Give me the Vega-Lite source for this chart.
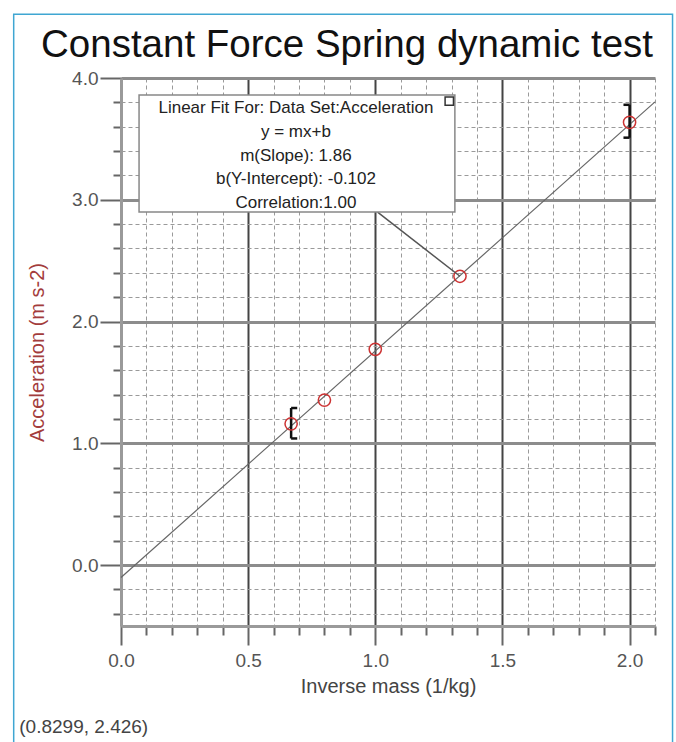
{
  "$schema": "https://vega.github.io/schema/vega-lite/v6.json",
  "width": 534,
  "height": 548,
  "autosize": {"type": "none"},
  "padding": {"left": 121, "top": 78, "right": 21, "bottom": 116},
  "background": "white",
  "title": {
    "text": "Constant Force Spring dynamic test",
    "anchor": "middle",
    "frame": "group",
    "dx": -41,
    "offset": -52,
    "font": "Liberation Sans",
    "fontSize": 38.5,
    "fontWeight": "normal",
    "color": "#111111"
  },
  "config": {
    "view": {"stroke": null},
    "font": "Liberation Sans"
  },
  "datasets": {
    "fit": [{"x": 0, "y": -0.102}, {"x": 2.1, "y": 3.804}],
    "points": [
      {"x": 0.669, "y": 1.16},
      {"x": 0.8, "y": 1.355},
      {"x": 1.0, "y": 1.772},
      {"x": 1.333, "y": 2.372},
      {"x": 2.0, "y": 3.636}
    ],
    "bars": [
      {"x": 0.669, "y": 1.04, "y2": 1.29},
      {"x": 2.0, "y": 3.51, "y2": 3.78}
    ],
    "serifs": [
      {"x": 0.669, "x2": 0.693, "y": 1.29},
      {"x": 0.669, "x2": 0.693, "y": 1.04},
      {"x": 1.976, "x2": 2.0, "y": 3.78},
      {"x": 1.976, "x2": 2.0, "y": 3.51}
    ],
    "box": [{"x": 0.071, "x2": 1.313, "y": 2.9, "y2": 3.86}],
    "connector": [{"x": 1.009, "x2": 1.333, "y": 2.898, "y2": 2.372}],
    "boxtext": [
      {"x": 0.688, "y": 3.752, "label": "Linear Fit For:  Data Set:Acceleration"},
      {"x": 0.688, "y": 3.555, "label": "y = mx+b"},
      {"x": 0.688, "y": 3.358, "label": "m(Slope): 1.86"},
      {"x": 0.688, "y": 3.169, "label": "b(Y-Intercept): -0.102"},
      {"x": 0.688, "y": 2.972, "label": "Correlation:1.00"}
    ],
    "corner": [{"x": 1.291, "y": 3.81}],
    "footer": [{"x": -0.4, "y": -1.33, "label": "(0.8299, 2.426)"}]
  },
  "layer": [
    {
      "data": {"name": "fit"},
      "mark": {"type": "line", "color": "#666666", "strokeWidth": 1.2},
      "encoding": {
        "x": {
          "field": "x",
          "type": "quantitative",
          "title": "Inverse mass (1/kg)",
          "scale": {"domain": [0, 2.1], "nice": false, "zero": false},
          "axis": {
            "values": [0, 0.1, 0.2, 0.3, 0.4, 0.5, 0.6, 0.7, 0.8, 0.9, 1.0, 1.1, 1.2, 1.3, 1.4, 1.5, 1.6, 1.7, 1.8, 1.9, 2.0, 2.1],
            "tickCount": 100,
            "labelOverlap": false,
            "labelExpr": "abs(datum.value*2 - round(datum.value*2)) < 0.001 ? format(datum.value, '.1f') : ''",
            "grid": true,
            "gridColor": {"condition": {"test": "abs(datum.value*2 - round(datum.value*2)) < 0.001", "value": "#444444"}, "value": "#9a9a9a"},
            "gridWidth": {"condition": {"test": "abs(datum.value*2 - round(datum.value*2)) < 0.001", "value": 2}, "value": 1},
            "gridDash": {"condition": {"test": "abs(datum.value*2 - round(datum.value*2)) < 0.001", "value": []}, "value": [4, 3]},
            "tickSize": {"condition": {"test": "abs(datum.value*2 - round(datum.value*2)) < 0.001", "value": 19}, "value": 9},
            "tickColor": "#666666",
            "tickWidth": 2,
            "domainColor": "#9a9a9a",
            "domainWidth": 3,
            "labelFont": "Liberation Sans",
            "labelFontSize": 19,
            "labelColor": "#555555",
            "labelPadding": 6,
            "labelFlush": false,
            "titleFont": "Liberation Sans",
            "titleFontSize": 20,
            "titleFontWeight": "normal",
            "titleColor": "#444444",
            "titlePadding": 6
          }
        },
        "y": {
          "field": "y",
          "type": "quantitative",
          "title": "Acceleration (m s-2)",
          "scale": {"domain": [-0.5, 4.0], "nice": false, "zero": false},
          "axis": {
            "values": [-0.4, -0.2, 0, 0.2, 0.4, 0.6, 0.8, 1.0, 1.2, 1.4, 1.6, 1.8, 2.0, 2.2, 2.4, 2.6, 2.8, 3.0, 3.2, 3.4, 3.6, 3.8, 4.0],
            "tickCount": 100,
            "labelOverlap": false,
            "labelExpr": "abs(datum.value - round(datum.value)) < 0.001 ? format(datum.value, '.1f') : ''",
            "grid": true,
            "gridColor": {"condition": {"test": "abs(datum.value - round(datum.value)) < 0.001", "value": "#8c8c8c"}, "value": "#9a9a9a"},
            "gridWidth": {"condition": {"test": "abs(datum.value - round(datum.value)) < 0.001", "value": 3}, "value": 1},
            "gridDash": {"condition": {"test": "abs(datum.value - round(datum.value)) < 0.001", "value": []}, "value": [4, 3]},
            "tickSize": {"condition": {"test": "abs(datum.value - round(datum.value)) < 0.001", "value": 21}, "value": 8},
            "tickColor": "#666666",
            "tickWidth": 2,
            "domainColor": "#9a9a9a",
            "domainWidth": 3,
            "labelFont": "Liberation Sans",
            "labelFontSize": 19,
            "labelColor": "#555555",
            "labelPadding": 2,
            "labelFlush": false,
            "titleFont": "Liberation Sans",
            "titleFontSize": 20,
            "titleFontWeight": "normal",
            "titleColor": "#a33c3c",
            "titlePadding": 24
          }
        }
      }
    },
    {
      "data": {"name": "bars"},
      "mark": {"type": "rule", "color": "#111111", "strokeWidth": 2.5},
      "encoding": {
        "x": {"field": "x", "type": "quantitative"},
        "y": {"field": "y", "type": "quantitative"},
        "y2": {"field": "y2"}
      }
    },
    {
      "data": {"name": "serifs"},
      "mark": {"type": "rule", "color": "#111111", "strokeWidth": 2.5},
      "encoding": {
        "x": {"field": "x", "type": "quantitative"},
        "x2": {"field": "x2"},
        "y": {"field": "y", "type": "quantitative"}
      }
    },
    {
      "data": {"name": "points"},
      "mark": {"type": "point", "shape": "circle", "filled": false, "size": 150, "stroke": "#cc3333", "strokeWidth": 1.5, "opacity": 1},
      "encoding": {
        "x": {"field": "x", "type": "quantitative"},
        "y": {"field": "y", "type": "quantitative"}
      }
    },
    {
      "data": {"name": "connector"},
      "mark": {"type": "rule", "color": "#555555", "strokeWidth": 1.5},
      "encoding": {
        "x": {"field": "x", "type": "quantitative"},
        "x2": {"field": "x2"},
        "y": {"field": "y", "type": "quantitative"},
        "y2": {"field": "y2"}
      }
    },
    {
      "data": {"name": "box"},
      "mark": {"type": "rect", "fill": "white", "stroke": "#888888", "strokeWidth": 1.5},
      "encoding": {
        "x": {"field": "x", "type": "quantitative"},
        "x2": {"field": "x2"},
        "y": {"field": "y", "type": "quantitative"},
        "y2": {"field": "y2"}
      }
    },
    {
      "data": {"name": "boxtext"},
      "mark": {"type": "text", "font": "Liberation Sans", "fontSize": 17, "color": "#222222", "align": "center", "baseline": "middle"},
      "encoding": {
        "x": {"field": "x", "type": "quantitative"},
        "y": {"field": "y", "type": "quantitative"},
        "text": {"field": "label"}
      }
    },
    {
      "data": {"name": "corner"},
      "mark": {"type": "point", "shape": "square", "filled": true, "fill": "white", "size": 70, "stroke": "#333333", "strokeWidth": 1.5, "opacity": 1},
      "encoding": {
        "x": {"field": "x", "type": "quantitative"},
        "y": {"field": "y", "type": "quantitative"}
      }
    },
    {
      "data": {"name": "footer"},
      "mark": {"type": "text", "font": "Liberation Sans", "fontSize": 19, "color": "#444444", "align": "left", "baseline": "middle"},
      "encoding": {
        "x": {"field": "x", "type": "quantitative"},
        "y": {"field": "y", "type": "quantitative"},
        "text": {"field": "label"}
      }
    },
    {
      "data": {"values": [{}]},
      "mark": {"type": "rect", "fill": null, "stroke": "#3fa6d2", "strokeWidth": 1.5},
      "encoding": {
        "x": {"datum": -0.422},
        "x2": {"datum": 2.169},
        "y": {"datum": 4.524},
        "y2": {"datum": -1.7}
      }
    }
  ]
}
